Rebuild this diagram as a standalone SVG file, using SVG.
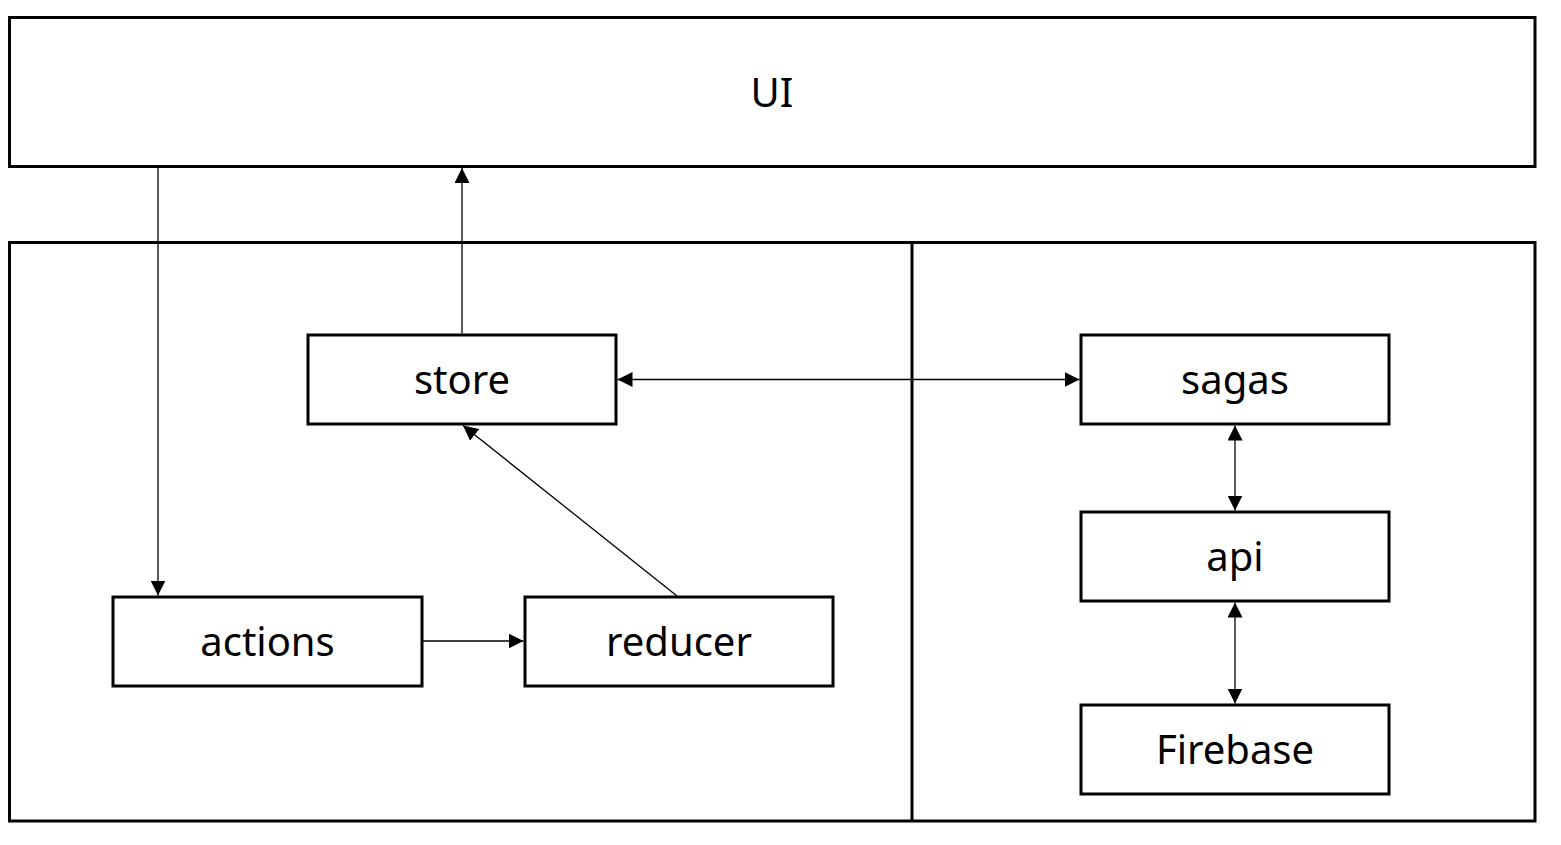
<svg xmlns="http://www.w3.org/2000/svg" width="1561" height="845" viewBox="0 0 1561 845">
<style>
.box{fill:#fff;stroke:#000;stroke-width:3}
.frame{fill:none;stroke:#000;stroke-width:3}
.lbl{font-family:"Noto Sans","Open Sans",sans-serif;font-size:40px;fill:#000;text-anchor:middle}
.con{stroke:#000;stroke-width:1.3;fill:none}
</style>
<defs>
<marker id="ah" viewBox="0 0 10 10" refX="10" refY="5" markerWidth="15" markerHeight="15" markerUnits="userSpaceOnUse" orient="auto-start-reverse">
<path d="M0,0 L10,5 L0,10 Z" fill="#000"/>
</marker>
</defs>
<rect width="1561" height="845" fill="#fff"/>
<g id="ui">
<rect class="box" x="9.5" y="17.5" width="1525.5" height="149"/>
<text class="lbl" x="772" y="107">UI</text>
</g>
<g id="containers">
<rect class="frame" x="9.5" y="242.5" width="1525.5" height="578.5"/>
<line x1="912" y1="242.5" x2="912" y2="821" stroke="#000" stroke-width="3"/>
</g>
<g id="store">
<rect class="box" x="308" y="335" width="308" height="89"/>
<text class="lbl" x="462" y="394">store</text>
</g>
<g id="actions">
<rect class="box" x="113" y="597" width="309" height="89"/>
<text class="lbl" x="267.5" y="656">actions</text>
</g>
<g id="reducer">
<rect class="box" x="525" y="597" width="308" height="89"/>
<text class="lbl" x="679" y="656">reducer</text>
</g>
<g id="sagas">
<rect class="box" x="1081" y="335" width="308" height="89"/>
<text class="lbl" x="1235" y="394">sagas</text>
</g>
<g id="api">
<rect class="box" x="1081" y="512" width="308" height="89"/>
<text class="lbl" x="1235" y="571">api</text>
</g>
<g id="firebase">
<rect class="box" x="1081" y="705" width="308" height="89"/>
<text class="lbl" x="1235" y="764">Firebase</text>
</g>
<g id="connectors">
<line class="con" x1="158" y1="168" x2="158" y2="595.5" marker-end="url(#ah)"/>
<line class="con" x1="462" y1="333.5" x2="462" y2="168" marker-end="url(#ah)"/>
<line class="con" x1="617.5" y1="379.5" x2="1079.5" y2="379.5" marker-start="url(#ah)" marker-end="url(#ah)"/>
<line class="con" x1="422" y1="641" x2="523.5" y2="641" marker-end="url(#ah)"/>
<line class="con" x1="677" y1="596" x2="463" y2="425.5" marker-end="url(#ah)"/>
<line class="con" x1="1235" y1="425.5" x2="1235" y2="510.5" marker-start="url(#ah)" marker-end="url(#ah)"/>
<line class="con" x1="1235" y1="602.5" x2="1235" y2="703.5" marker-start="url(#ah)" marker-end="url(#ah)"/>
</g>
</svg>
